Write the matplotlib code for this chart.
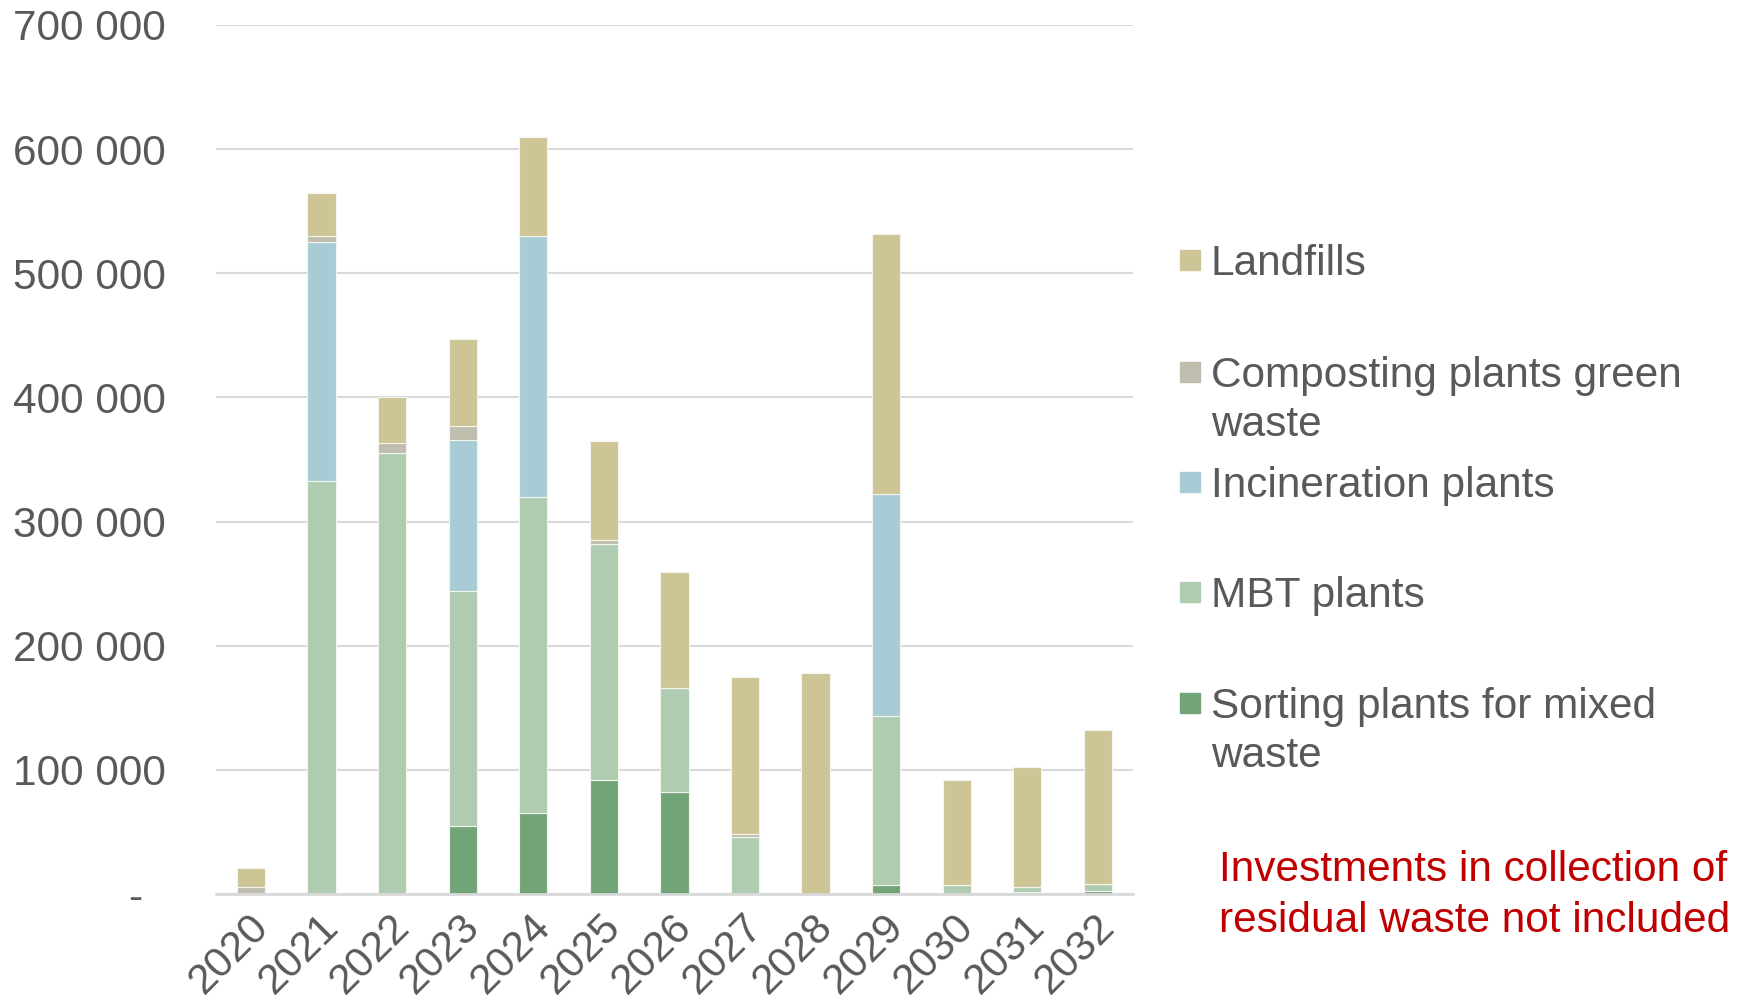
import matplotlib
matplotlib.use("Agg")
import numpy as np
from matplotlib import pyplot as plt
from matplotlib.patches import Rectangle
from matplotlib.ticker import FuncFormatter
from matplotlib.transforms import ScaledTranslation

years = ["2020", "2021", "2022", "2023", "2024", "2025", "2026",
         "2027", "2028", "2029", "2030", "2031", "2032"]
sorting = [0, 0, 0, 55000, 65000, 92000, 82000, 0, 0, 7000, 0, 2000, 2500]
mbt = [0, 333000, 355000, 189000, 255000, 190000, 84000, 46000, 0, 136000, 7000, 4000, 5500]
incineration = [0, 192000, 0, 122000, 210000, 0, 0, 0, 0, 179000, 0, 0, 0]
composting = [6000, 5000, 8000, 11000, 0, 3000, 0, 2000, 0, 0, 0, 0, 0]
landfills = [15000, 35000, 37000, 70000, 80000, 80000, 93000, 127000, 178000, 210000, 85000, 96000, 124000]

series = [
    ("Sorting plants for mixed\nwaste", sorting, "#72A478"),
    ("MBT plants", mbt, "#AFCCB0"),
    ("Incineration plants", incineration, "#A8CCD6"),
    ("Composting plants green\nwaste", composting, "#BFBDAD"),
    ("Landfills", landfills, "#CDC595"),
]
note = "Investments in collection of\nresidual waste not included"

grey = "#595959"
fs = 30.5
plt.rcParams["font.family"] = ["Liberation Sans", "DejaVu Sans"]

fig = plt.figure(figsize=(17.54, 10), dpi=100)
ax = fig.add_axes([0.123, 0.106, 0.523, 0.869])

x = np.arange(len(years))
bottom = np.zeros(len(years))
for name, vals, col in series:
    vals = np.array(vals, dtype=float)
    ax.bar(x, vals, 0.4, bottom=bottom, color=col, edgecolor="#F4F4EE",
           linewidth=0.8, zorder=2)
    bottom += vals

ax.set_xlim(-0.5, len(years) - 0.5)
ax.set_ylim(0, 700000)
ax.set_yticks(np.arange(0, 700001, 100000))
ax.yaxis.set_major_formatter(FuncFormatter(
    lambda v, p: "-" if v == 0 else f"{int(v):,}".replace(",", " ")))
ax.grid(axis="y", color="#D9D9D9", linewidth=1.5, zorder=0)
ax.set_axisbelow(True)
for s in ["top", "right", "left"]:
    ax.spines[s].set_visible(False)
ax.spines["bottom"].set_color("#D9D9D9")
ax.spines["bottom"].set_linewidth(2)
ax.tick_params(axis="both", length=0, labelsize=fs, labelcolor=grey)
ax.tick_params(axis="y", pad=36)

ax.set_xticks(x)
ax.set_xticklabels(years, rotation=45, ha="right", va="top",
                   rotation_mode="anchor")
for lab in ax.get_xticklabels():
    lab.set_transform(lab.get_transform() + ScaledTranslation(-0.03, -0.08, fig.dpi_scale_trans))
for lab in ax.get_yticklabels():
    if lab.get_text() == "-":
        lab.set_transform(lab.get_transform() + ScaledTranslation(-0.23, 0, fig.dpi_scale_trans))

# legend drawn by hand to keep the Excel spacing
W, H = 1754.0, 1000.0
leg_y = [260, 372, 482, 592, 703]
for (name, vals, col), yy in zip(reversed(series), leg_y):
    fig.add_artist(Rectangle((1180 / W, 1 - (yy + 10) / H), 20 / W, 20 / H,
                             transform=fig.transFigure, color=col))
    fig.text(1211 / W, 1 - (yy - 16) / H, name, fontsize=fs, color=grey,
             va="top", ha="left", linespacing=1.3)

fig.text(1219 / W, 1 - 850 / H, note, fontsize=fs, color="#C00000",
         va="top", ha="left", linespacing=1.35)

fig.savefig("out.png", dpi=100)
